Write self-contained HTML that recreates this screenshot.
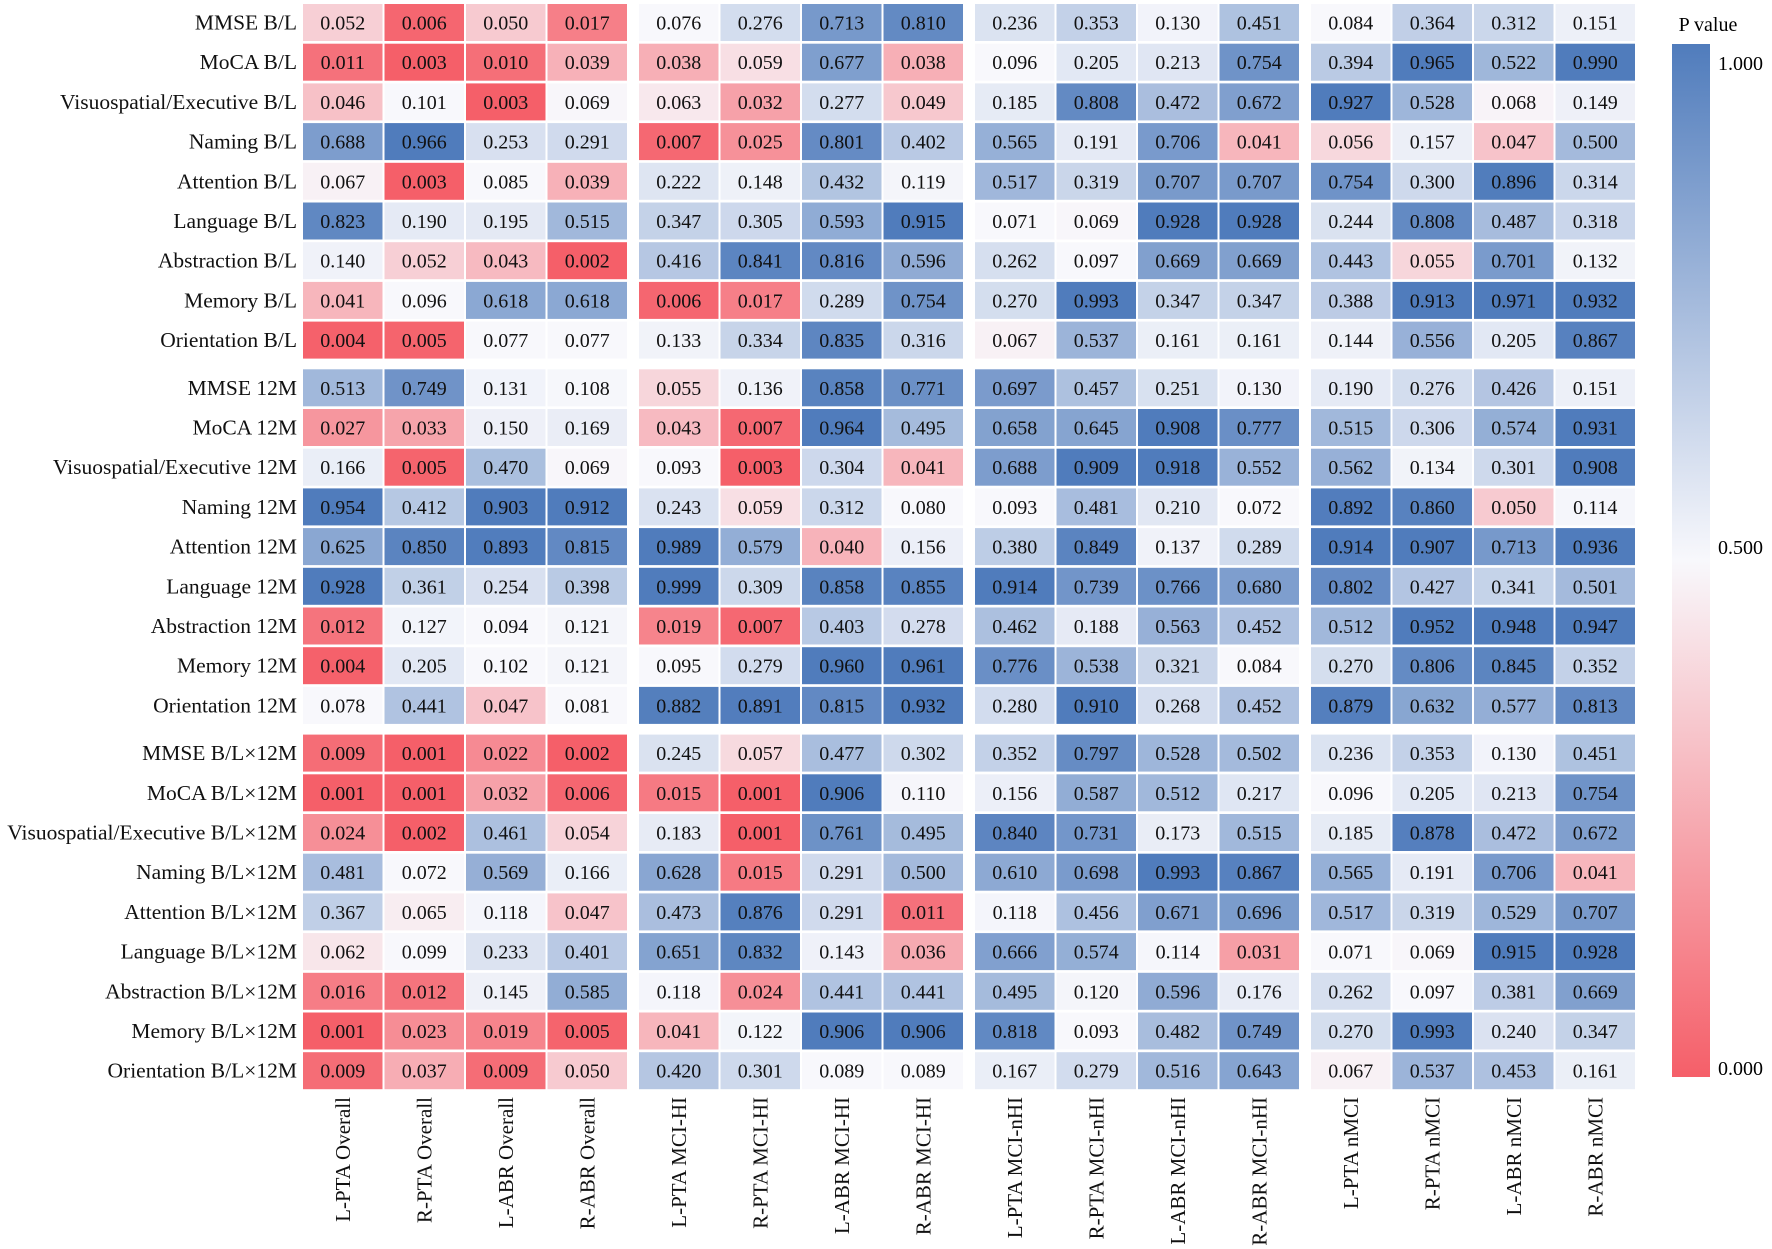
<!DOCTYPE html>
<html><head><meta charset="utf-8"><style>
html,body{margin:0;padding:0;background:#fff;}
svg{display:block;font-family:"Liberation Serif",serif;}
</style></head><body>
<svg id="chart" width="1772" height="1249" viewBox="0 0 1772 1249">
<defs><linearGradient id="cbg" x1="0" y1="1" x2="0" y2="0">
<stop offset="0" stop-color="rgb(245,95,105)"/><stop offset="0.5" stop-color="rgb(248,248,252)"/><stop offset="1" stop-color="rgb(80,124,188)"/></linearGradient></defs>
<g id="cells"></g><g id="rowlabels"></g><g id="collabels"></g>
<g>
<text x="1708" y="31" font-size="20" text-anchor="middle">P value</text>
<rect x="1672" y="44" width="38" height="1033" fill="url(#cbg)"/>
<text x="1718" y="70" font-size="20">1.000</text>
<text x="1718" y="554" font-size="20">0.500</text>
<text x="1718" y="1075" font-size="20">0.000</text>
</g>
</svg>
<script>
const rowNames=["MMSE B/L","MoCA B/L","Visuospatial/Executive B/L","Naming B/L","Attention B/L","Language B/L","Abstraction B/L","Memory B/L","Orientation B/L",
"MMSE 12M","MoCA 12M","Visuospatial/Executive 12M","Naming 12M","Attention 12M","Language 12M","Abstraction 12M","Memory 12M","Orientation 12M",
"MMSE B/L×12M","MoCA B/L×12M","Visuospatial/Executive B/L×12M","Naming B/L×12M","Attention B/L×12M","Language B/L×12M","Abstraction B/L×12M","Memory B/L×12M","Orientation B/L×12M"];
const colNames=["L-PTA Overall","R-PTA Overall","L-ABR Overall","R-ABR Overall","L-PTA MCI-HI","R-PTA MCI-HI","L-ABR MCI-HI","R-ABR MCI-HI","L-PTA MCI-nHI","R-PTA MCI-nHI","L-ABR MCI-nHI","R-ABR MCI-nHI","L-PTA nMCI","R-PTA nMCI","L-ABR nMCI","R-ABR nMCI"];
const pValues=[
[0.052,0.006,0.050,0.017,0.076,0.276,0.713,0.810,0.236,0.353,0.130,0.451,0.084,0.364,0.312,0.151],
[0.011,0.003,0.010,0.039,0.038,0.059,0.677,0.038,0.096,0.205,0.213,0.754,0.394,0.965,0.522,0.990],
[0.046,0.101,0.003,0.069,0.063,0.032,0.277,0.049,0.185,0.808,0.472,0.672,0.927,0.528,0.068,0.149],
[0.688,0.966,0.253,0.291,0.007,0.025,0.801,0.402,0.565,0.191,0.706,0.041,0.056,0.157,0.047,0.500],
[0.067,0.003,0.085,0.039,0.222,0.148,0.432,0.119,0.517,0.319,0.707,0.707,0.754,0.300,0.896,0.314],
[0.823,0.190,0.195,0.515,0.347,0.305,0.593,0.915,0.071,0.069,0.928,0.928,0.244,0.808,0.487,0.318],
[0.140,0.052,0.043,0.002,0.416,0.841,0.816,0.596,0.262,0.097,0.669,0.669,0.443,0.055,0.701,0.132],
[0.041,0.096,0.618,0.618,0.006,0.017,0.289,0.754,0.270,0.993,0.347,0.347,0.388,0.913,0.971,0.932],
[0.004,0.005,0.077,0.077,0.133,0.334,0.835,0.316,0.067,0.537,0.161,0.161,0.144,0.556,0.205,0.867],
[0.513,0.749,0.131,0.108,0.055,0.136,0.858,0.771,0.697,0.457,0.251,0.130,0.190,0.276,0.426,0.151],
[0.027,0.033,0.150,0.169,0.043,0.007,0.964,0.495,0.658,0.645,0.908,0.777,0.515,0.306,0.574,0.931],
[0.166,0.005,0.470,0.069,0.093,0.003,0.304,0.041,0.688,0.909,0.918,0.552,0.562,0.134,0.301,0.908],
[0.954,0.412,0.903,0.912,0.243,0.059,0.312,0.080,0.093,0.481,0.210,0.072,0.892,0.860,0.050,0.114],
[0.625,0.850,0.893,0.815,0.989,0.579,0.040,0.156,0.380,0.849,0.137,0.289,0.914,0.907,0.713,0.936],
[0.928,0.361,0.254,0.398,0.999,0.309,0.858,0.855,0.914,0.739,0.766,0.680,0.802,0.427,0.341,0.501],
[0.012,0.127,0.094,0.121,0.019,0.007,0.403,0.278,0.462,0.188,0.563,0.452,0.512,0.952,0.948,0.947],
[0.004,0.205,0.102,0.121,0.095,0.279,0.960,0.961,0.776,0.538,0.321,0.084,0.270,0.806,0.845,0.352],
[0.078,0.441,0.047,0.081,0.882,0.891,0.815,0.932,0.280,0.910,0.268,0.452,0.879,0.632,0.577,0.813],
[0.009,0.001,0.022,0.002,0.245,0.057,0.477,0.302,0.352,0.797,0.528,0.502,0.236,0.353,0.130,0.451],
[0.001,0.001,0.032,0.006,0.015,0.001,0.906,0.110,0.156,0.587,0.512,0.217,0.096,0.205,0.213,0.754],
[0.024,0.002,0.461,0.054,0.183,0.001,0.761,0.495,0.840,0.731,0.173,0.515,0.185,0.878,0.472,0.672],
[0.481,0.072,0.569,0.166,0.628,0.015,0.291,0.500,0.610,0.698,0.993,0.867,0.565,0.191,0.706,0.041],
[0.367,0.065,0.118,0.047,0.473,0.876,0.291,0.011,0.118,0.456,0.671,0.696,0.517,0.319,0.529,0.707],
[0.062,0.099,0.233,0.401,0.651,0.832,0.143,0.036,0.666,0.574,0.114,0.031,0.071,0.069,0.915,0.928],
[0.016,0.012,0.145,0.585,0.118,0.024,0.441,0.441,0.495,0.120,0.596,0.176,0.262,0.097,0.381,0.669],
[0.001,0.023,0.019,0.005,0.041,0.122,0.906,0.906,0.818,0.093,0.482,0.749,0.270,0.993,0.240,0.347],
[0.009,0.037,0.009,0.050,0.420,0.301,0.089,0.089,0.167,0.279,0.516,0.643,0.067,0.537,0.453,0.161]];

const NS="http://www.w3.org/2000/svg";
const colPitch=81.5, cellW=79.5, groupStride=336, left0=303;
const rowPitch=39.7, cellH=37, groupGapY=8, top0=4;
function xPos(c){return left0+Math.floor(c/4)*groupStride+(c%4)*colPitch;}
function yPos(r){return top0+r*rowPitch+Math.floor(r/9)*groupGapY;}
const RED=[245,95,105], WHITE=[248,248,252], BLUE=[80,124,188];
function mix(a,b,t){return 'rgb('+a.map((v,i)=>Math.round(v+(b[i]-v)*t)).join(',')+')';}
function color(p){
  if(p<0.07){return mix(RED,WHITE,Math.min(1,Math.max(0,(p-0.003)/0.067)));}
  if(p<=0.1) return mix(WHITE,WHITE,0);
  return mix(WHITE,BLUE,Math.min(1,(p-0.1)/0.8));
}
function mk(tag,attrs){const e=document.createElementNS(NS,tag);for(const k in attrs)e.setAttribute(k,attrs[k]);return e;}
const cells=document.getElementById('cells');
pValues.forEach((row,r)=>row.forEach((p,c)=>{
  const x=xPos(c), y=yPos(r);
  const rect=mk('rect',{x:x,y:y,width:cellW,height:cellH,fill:color(p)});
  
  
  cells.appendChild(rect);
  const t=mk('text',{x:x+cellW/2,y:y+cellH/2+7,'font-size':20,'text-anchor':'middle',fill:'#111'});
  
  
  t.textContent=p.toFixed(3);
  cells.appendChild(t);
}));
const rl=document.getElementById('rowlabels');
rowNames.forEach((n,r)=>{
  const t=mk('text',{x:297,y:yPos(r)+cellH/2+7,'font-size':21.5,'text-anchor':'end',fill:'#111'});
  
  
  t.textContent=n; rl.appendChild(t);
});
const cl=document.getElementById('collabels');
colNames.forEach((n,c)=>{
  const cx=xPos(c)+cellW/2+7, y=1097;
  const t=mk('text',{x:cx,y:y,'font-size':21,'text-anchor':'end',fill:'#111',transform:'rotate(-90 '+cx+' '+y+')'});
  
  
  t.textContent=n; cl.appendChild(t);
});
</script>
</body></html>
